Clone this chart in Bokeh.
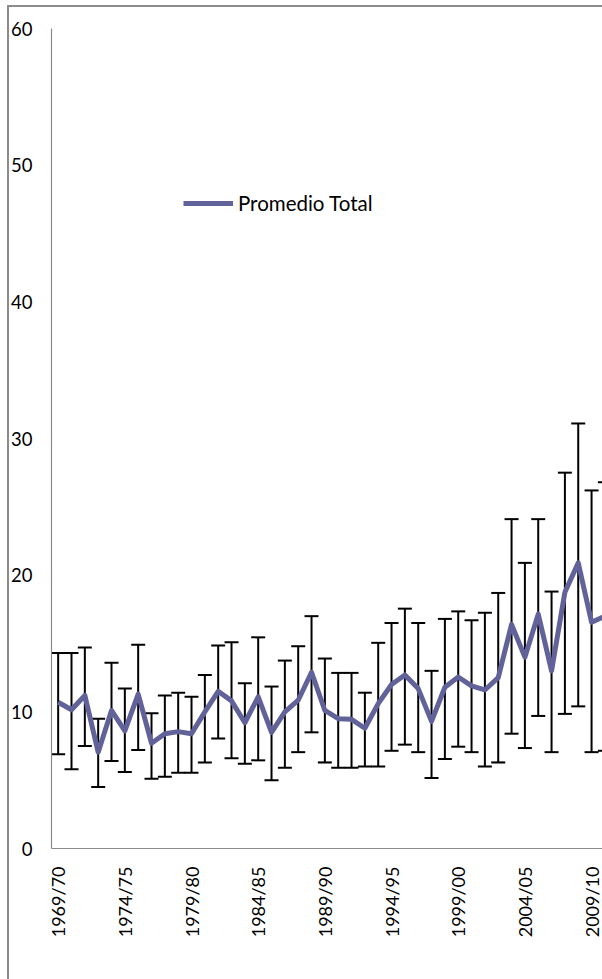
from math import pi

from bokeh.embed import file_html
from bokeh.models import (ColumnDataSource, FixedTicker, InlineStyleSheet, Legend,
                          LegendItem, Range1d, TeeHead, Whisker)
from bokeh.plotting import figure
from bokeh.resources import INLINE

# Seasons 1969/70 .. 2010/11
seasons = [f"{y}/{str(y + 1)[-2:]}" for y in range(1969, 2011)]

# Season average ("Promedio Total")
promedio = [10.7, 10.15, 11.2, 7.05, 10.1, 8.6, 11.3, 7.7, 8.4, 8.55,
            8.4, 10.0, 11.5, 10.8, 9.2, 11.1, 8.5, 10.0, 10.85, 12.9,
            10.1, 9.5, 9.45, 8.8, 10.6, 12.0, 12.7, 11.7, 9.3, 11.8,
            12.55, 11.9, 11.6, 12.5, 16.4, 14.0, 17.15, 13.0, 18.75, 20.9,
            16.55, 17.0]

# Error bar limits
upper = [14.3, 14.3, 14.7, 9.5, 13.6, 11.7, 14.9, 9.9, 11.2, 11.4,
         11.1, 12.7, 14.85, 15.1, 12.1, 15.45, 11.85, 13.75, 14.8, 17.0,
         13.9, 12.85, 12.85, 11.4, 15.05, 16.5, 17.55, 16.5, 13.0, 16.8,
         17.35, 16.7, 17.25, 18.7, 24.1, 20.9, 24.1, 18.8, 27.5, 31.1,
         26.2, 26.8]
lower = [6.9, 5.8, 7.5, 4.5, 6.4, 5.6, 7.2, 5.1, 5.25, 5.55,
         5.55, 6.3, 8.05, 6.6, 6.2, 6.45, 5.0, 5.9, 7.05, 8.5,
         6.3, 5.9, 5.9, 6.0, 6.0, 7.15, 7.6, 7.05, 5.15, 6.55,
         7.45, 7.05, 6.0, 6.3, 8.4, 7.35, 9.7, 7.05, 9.85, 10.4,
         7.05, 7.15]

y_ticks = [0, 10, 20, 30, 40, 50, 60]

idx = list(range(len(seasons)))
src = ColumnDataSource(dict(x=idx, season=seasons, mean=promedio,
                            upper=upper, lower=lower))

LABEL_FONT = "Lato"

# thin grey chart-area border along the left and top edges
chart_border = InlineStyleSheet(css="""
:host { position: relative; }
:host::after {
  content: "";
  position: absolute;
  left: 7px; top: 5px; right: 0; bottom: 0;
  border-left: 2px solid #8c8c8c;
  border-top: 2px solid #8c8c8c;
  pointer-events: none;
}
""")

p = figure(width=602, height=979, output_backend="svg", toolbar_location=None,
           x_range=Range1d(-0.5, 40.82), y_range=Range1d(0, 60),
           min_border_left=51, min_border_right=0, min_border_top=28,
           min_border_bottom=131, stylesheets=[chart_border])
p.outline_line_color = None
p.xgrid.visible = False
p.ygrid.visible = False
p.background_fill_color = "white"
p.border_fill_color = "white"

# y axis
ya = p.yaxis[0]
ya.ticker = FixedTicker(ticks=y_ticks)
ya.axis_line_color = "#8a8a8a"
ya.axis_line_width = 1.2
ya.major_tick_line_color = None
ya.minor_tick_line_color = None
ya.major_label_standoff = 13
ya.major_label_text_font = LABEL_FONT
ya.major_label_text_font_size = "18.5px"
ya.major_label_text_color = "black"

# x axis: label every fifth season
xa = p.xaxis[0]
tick_idx = idx[::5]
xa.ticker = FixedTicker(ticks=tick_idx)
xa.major_label_overrides = {i: seasons[i] for i in tick_idx}
xa.major_label_orientation = pi / 2
xa.axis_line_color = "#8a8a8a"
xa.axis_line_width = 1.2
xa.major_tick_line_color = None
xa.minor_tick_line_color = None
xa.major_label_standoff = 12
xa.major_label_text_font = LABEL_FONT
xa.major_label_text_font_size = "18px"
xa.major_label_text_color = "black"

line = p.line("x", "mean", source=src, line_color="#62629a", line_width=5,
              line_join="round")

p.add_layout(Whisker(base="x", upper="upper", lower="lower", source=src,
                     line_color="black", line_width=2,
                     upper_head=TeeHead(size=14, line_color="black", line_width=2),
                     lower_head=TeeHead(size=14, line_color="black", line_width=2)))

legend = Legend(items=[LegendItem(label="Promedio Total", renderers=[line])],
                location=(132, 633), padding=0, margin=0, glyph_width=50,
                glyph_height=20, label_standoff=5, label_text_font=LABEL_FONT,
                label_text_font_size="20.5px", label_text_color="black",
                border_line_color=None, background_fill_alpha=0)
p.add_layout(legend)

open("out.html", "w").write(file_html(p, INLINE))
